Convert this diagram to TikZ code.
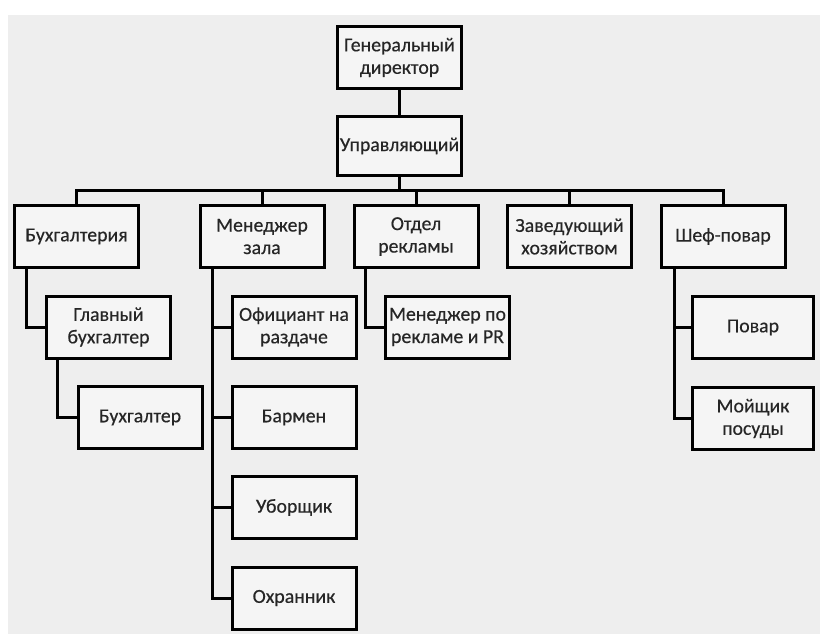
\documentclass[tikz,border=0pt]{standalone}
\usepackage{fontspec}
\setmainfont{Carlito}
\newfontfamily\boxfont{Carlito}[FakeBold=0.4]
\begin{document}
\begin{tikzpicture}[x=1pt,y=-1pt,
  box/.style={draw=black, line width=3pt, fill=boxfill, minimum width=124pt, minimum height=62pt,
    inner sep=0pt, align=center, text=txt, font=\boxfont\fontsize{19.8}{22.5}\selectfont},
  conn/.style={draw=black, line width=3pt}]
\definecolor{boxfill}{HTML}{F5F5F5}
\definecolor{bg}{HTML}{EEEEEE}
\definecolor{txt}{HTML}{262626}
\useasboundingbox (0,0) rectangle (820,634);
\fill[white] (0,0) rectangle (820,634);
\fill[bg] (8,15) rectangle (820,634);
% nodes
\node[box] (gd) at (399.5,57.5) {Генеральный\\директор};
\node[box, minimum height=59pt] (up) at (399.5,146) {Управляющий};
\node[box] (buh) at (76.5,236.5) {Бухгалтерия};
\node[box] (mz) at (262,236.5) {Менеджер\\зала};
\node[box] (otd) at (416,236.5) {Отдел\\рекламы};
\node[box] (zav) at (569.5,236.5) {Заведующий\\хозяйством};
\node[box] (shef) at (723,236.5) {Шеф-повар};
\node[box] (glav) at (108.5,327) {Главный\\бухгалтер};
\node[box] (buh2) at (140,417.5) {Бухгалтер};
\node[box] (ofic) at (294,327) {Официант на\\раздаче};
\node[box] (barm) at (294,417.5) {Бармен};
\node[box] (ubor) at (294,507.5) {Уборщик};
\node[box] (ohr) at (294,598) {Охранник};
\node[box] (mrp) at (447.5,327) {Менеджер по\\рекламе и PR};
\node[box, minimum width=121pt] (povar) at (753,327.5) {Повар};
\node[box, minimum width=121pt] (moy) at (753,418.5) {Мойщик\\посуды};
% bus
\coordinate (bus) at (399.5,190);
\draw[conn] (gd.south) -- (up.north);
\draw[conn] (up.south) -- (bus);
\draw[conn, line cap=rect] (buh.north) -- (buh.north |- bus) -- (shef.north |- bus) -- (shef.north);
\draw[conn] (mz.north) -- (mz.north |- bus);
\draw[conn] (otd.north) -- (otd.north |- bus);
\draw[conn] (zav.north) -- (zav.north |- bus);
% sub-branches
\draw[conn] ([xshift=13pt]buh.south west) |- (glav.west);
\draw[conn] ([xshift=12pt]glav.south west) |- (buh2.west);
\coordinate (mzs) at ([xshift=14pt]mz.south west);
\draw[conn] (mzs) |- (ohr.west);
\draw[conn] (ofic.west) -- (ofic.west -| mzs);
\draw[conn] (barm.west) -- (barm.west -| mzs);
\draw[conn] (ubor.west) -- (ubor.west -| mzs);
\draw[conn] ([xshift=13pt]otd.south west) |- (mrp.west);
\coordinate (shs) at ([xshift=15pt]shef.south west);
\draw[conn] (shs) |- (moy.west);
\draw[conn] (povar.west) -- (povar.west -| shs);
\end{tikzpicture}
\end{document}
